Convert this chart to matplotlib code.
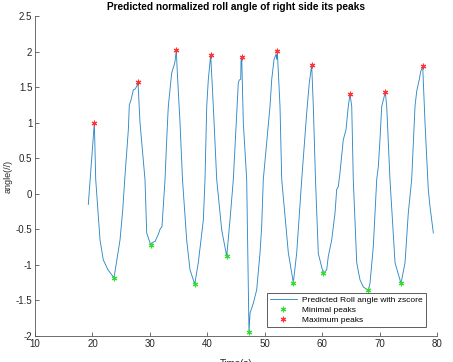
import matplotlib
matplotlib.use("Agg")
import matplotlib.pyplot as plt

# Predicted roll angle curve
time_s = [19.28, 20.33, 20.57, 21.32, 21.89, 22.71, 23.36, 23.76, 24.80, 25.27,
          25.62, 26.25, 26.42, 26.66, 27.12, 27.41, 27.71, 27.93, 28.28, 29.15,
          29.45, 29.73, 29.90, 30.15, 30.55, 30.90, 31.42, 31.77, 32.11, 32.64,
          32.93, 33.21, 33.80, 34.26, 34.38, 34.60, 34.78, 35.25, 35.68, 36.41,
          36.99, 37.81, 38.43, 39.31, 39.60, 39.90, 40.18, 40.59, 41.05, 41.64,
          42.51, 43.38, 43.95, 44.53, 45.40, 45.57, 45.82, 45.87, 45.99, 46.27,
          46.86, 47.26, 47.44, 48.01, 48.60, 49.18, 49.47, 49.75, 50.92, 51.22,
          51.62, 51.96, 52.09, 52.19, 52.66, 52.96, 54.11, 54.98, 55.57, 56.44,
          57.31, 57.76, 58.18, 58.46, 58.84, 59.33, 60.20, 60.79, 61.07, 61.66,
          62.24, 62.53, 62.81, 63.11, 63.68, 64.15, 64.55, 64.85, 65.15, 65.42,
          66.02, 66.59, 67.17, 68.04, 68.33, 68.91, 69.50, 69.78, 70.07, 70.37,
          71.00, 71.24, 71.81, 72.69, 73.73, 74.43, 75.00, 75.59, 76.17, 76.46,
          76.92, 77.16, 77.51, 77.91, 78.48, 78.78, 79.36]
roll_angle = [-0.15, 1.00, 0.20, -0.65, -0.93, -1.07, -1.14, -1.18, -0.65, -0.23,
              0.20, 0.90, 1.25, 1.30, 1.46, 1.47, 1.51, 1.57, 1.00, 0.20,
              -0.55, -0.62, -0.66, -0.72, -0.68, -0.67, -0.58, -0.50, -0.46, 0.20,
              0.76, 1.23, 1.70, 1.82, 1.86, 2.02, 1.70, 1.00, 0.20, -0.65,
              -1.07, -1.27, -0.97, -0.37, 0.20, 1.23, 1.61, 1.95, 1.23, 0.20,
              -0.51, -0.88, -0.37, 0.20, 1.56, 1.60, 1.61, 1.86, 1.93, 1.00,
              0.20, -1.95, -1.68, -1.54, -1.35, -0.83, -0.46, 0.20, 1.23, 1.61,
              1.89, 1.96, 1.89, 2.01, 1.23, 0.20, -0.83, -1.25, -0.83, 0.20,
              1.14, 1.56, 1.81, 1.23, 0.20, -0.84, -1.12, -1.07, -0.88, -0.65,
              -0.27, 0.06, 0.10, 0.30, 0.76, 0.90, 1.23, 1.40, 1.23, 0.20,
              -0.97, -1.21, -1.31, -1.36, -1.26, -0.74, 0.20, 0.38, 0.76, 1.23,
              1.43, 1.23, 0.20, -0.97, -1.26, -0.97, -0.27, 0.20, 1.23, 1.44,
              1.61, 1.72, 1.79, 1.00, 0.06, -0.18, -0.55]

# Detected peaks
min_t = [23.76, 30.15, 37.81, 43.38, 47.26, 54.98, 60.20, 68.04, 73.73]
min_v = [-1.18, -0.72, -1.27, -0.88, -1.95, -1.25, -1.12, -1.36, -1.26]
max_t = [20.33, 27.93, 34.60, 40.59, 45.99, 52.19, 58.18, 64.85, 71.00, 77.51]
max_v = [1.00, 1.57, 2.02, 1.95, 1.93, 2.01, 1.81, 1.40, 1.43, 1.79]

x_ticks = [10, 20, 30, 40, 50, 60, 70, 80]
y_ticks = [-2, -1.5, -1, -0.5, 0, 0.5, 1, 1.5, 2, 2.5]
y_tick_labels = ["-2", "-1.5", "-1", "-0.5", "0", "0.5", "1", "1.5", "2", "2.5"]

plt.rcParams['font.family'] = ['Liberation Sans', 'DejaVu Sans']

fig = plt.figure(figsize=(4.53, 3.62), dpi=100)
ax = fig.add_axes([0.0773, 0.0718, 0.8874, 0.884])

ax.plot(time_s, roll_angle, color='#3089c6', lw=0.65,
        label='Predicted Roll angle with zscore')
ax.plot(min_t, min_v, linestyle='none', marker=(6, 2, 0), color='#33dd33',
        markersize=4, mew=0.8, label='Minimal peaks')
ax.plot(max_t, max_v, linestyle='none', marker=(6, 2, 0), color='#ff3333',
        markersize=4, mew=0.8, label='Maximum peaks')

ax.set_xlim(10, 80)
ax.set_ylim(-2, 2.5)
ax.set_xticks(x_ticks)
ax.set_yticks(y_ticks)
ax.set_yticklabels(y_tick_labels)

axis_col = '#262626'
for s in ['top', 'right']:
    ax.spines[s].set_visible(False)
for s in ['left', 'bottom']:
    ax.spines[s].set_color('#555555')
    ax.spines[s].set_linewidth(0.6)
ax.tick_params(direction='in', length=3, width=0.6, colors='#555555',
               labelcolor=axis_col, labelsize=7, pad=2)

ax.set_title('Predicted normalized roll angle of right side its peaks',
             fontsize=7.3, fontweight='bold', color='black', pad=4)
ax.set_ylabel('angle(//)', fontsize=6.5, color=axis_col, labelpad=2)
ax.set_xlabel('Time(s)', fontsize=7, color=axis_col, labelpad=7)

leg = ax.legend(loc='lower right', bbox_to_anchor=(0.978, 0.02), fontsize=6,
                frameon=True, fancybox=False, edgecolor='#333333',
                handlelength=3.3, handletextpad=0.6, borderpad=0.35,
                labelspacing=0.3, borderaxespad=0.3)
leg.get_frame().set_linewidth(0.7)

fig.savefig('out.png', dpi=100)
